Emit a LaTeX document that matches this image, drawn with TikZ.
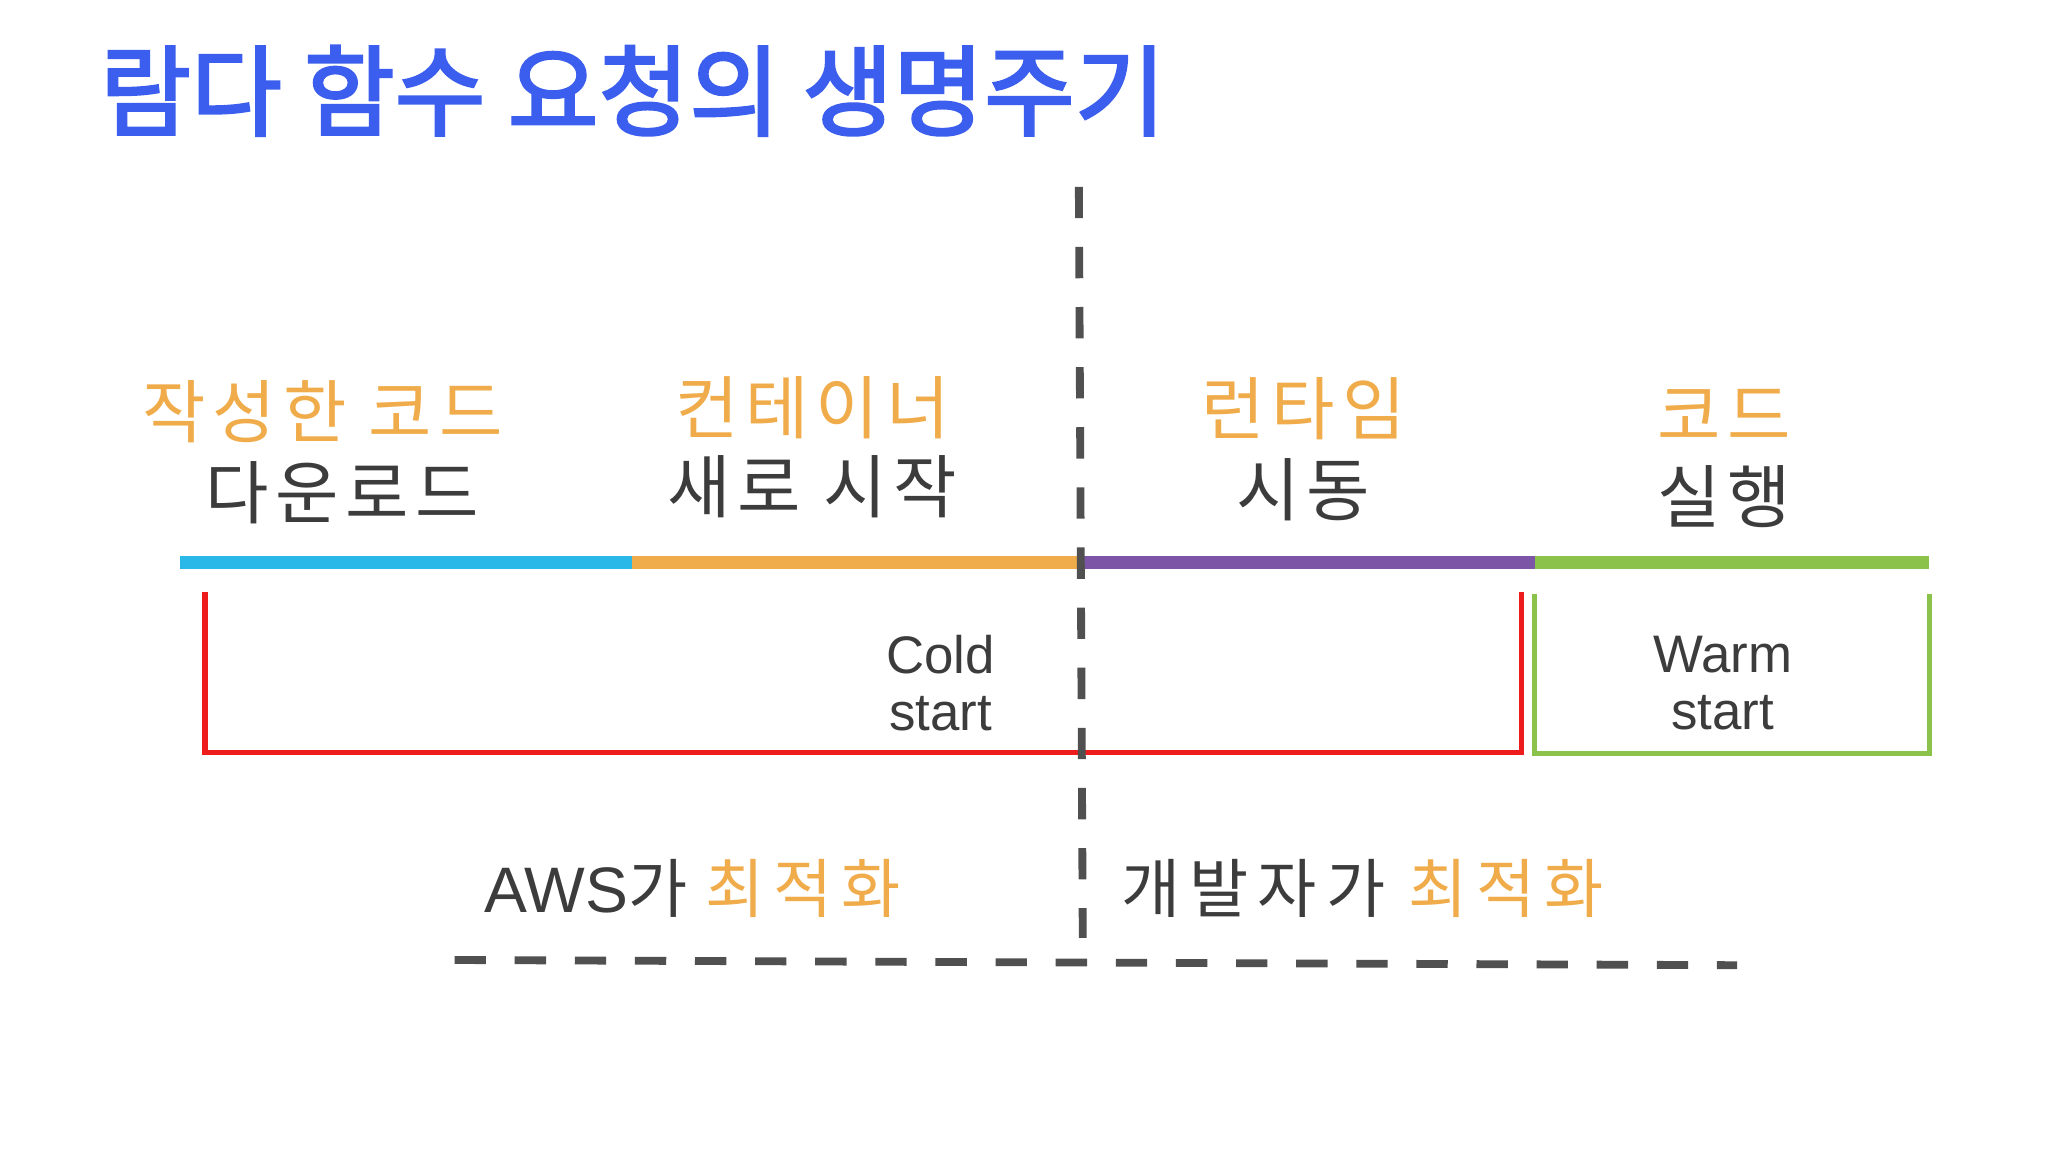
\documentclass[tikz,border=0pt]{standalone}
\usepackage{fontspec}
\setmainfont{Liberation Sans}
\newfontfamily\kr{Noto Sans CJK KR}[LetterSpace=10]
\newfontfamily\krw{Noto Sans CJK KR}[LetterSpace=14]
\newfontfamily\krb{Noto Sans CJK KR}[BoldFont=*, FakeBold=2.5]
\definecolor{ttl}{HTML}{3B5EEE}
\definecolor{org}{HTML}{F0AC4A}
\definecolor{dgr}{HTML}{3C3C3C}
\definecolor{cyn}{HTML}{2AB8E8}
\definecolor{pur}{HTML}{7D55A6}
\definecolor{grn}{HTML}{8BC34A}
\definecolor{rd}{HTML}{EE1C1C}
\tikzset{
 bar/.style={line width=1.0mm},
 dline/.style={draw=dgr!90,line width=0.6mm,dash pattern=on 2.4mm off 2.2mm},
 lbl/.style={font=\kr\fontsize{15}{17}\selectfont,inner sep=0pt},
 en/.style={font=\fontsize{11.5}{13.5}\selectfont,text=dgr,align=center,inner sep=0pt},
 brk/.style={line width=0.4mm}
}
\begin{document}
\begin{tikzpicture}[x=0.01cm,y=-0.01cm]
\useasboundingbox[fill=white] (0,0) rectangle (1568,882);
\node[anchor=base west,inner sep=0pt,text=ttl,font=\krb\fontsize{21.5}{24}\selectfont\bfseries] (title) at (76,98) {람다 함수 요청의 생명주기};
% bars
\coordinate (b0) at (138,431); \coordinate (b1) at (484,431);
\coordinate (b2) at (827,431); \coordinate (b3) at (1175,431); \coordinate (b4) at (1477,431);
\draw[bar,cyn] (b0)--(b1); \draw[bar,org] (b1)--(b2);
\draw[bar,pur] (b2)--(b3); \draw[bar,grn] (b3)--(b4);
% brackets
\coordinate (r1) at (157,453); \coordinate (r2) at (157,576);
\coordinate (r3) at (1165,576); \coordinate (r4) at (1165,453);
\draw[brk,rd] (r1)--(r2)--(r3)--(r4);
\coordinate (g1) at (1175,455); \coordinate (g2) at (1175,577);
\coordinate (g3) at (1477,577); \coordinate (g4) at (1477,455);
\draw[brk,grn] (g1)--(g2)--(g3)--(g4);
% dashed lines
\coordinate (v1) at (826,143); \coordinate (v2) at (829,718);
\draw[dline] (v1)--(v2);
\coordinate (h1) at (348,735); \coordinate (h2) at (1330,739);
\draw[dline] (h1)--(h2);
% labels
\node[lbl,text=org] (l1a) at (247,315) {작성한 코드};
\node[lbl,text=dgr] (l1b) at (262,377) {다운로드};
\node[lbl,text=org] (l2a) at (622,312) {컨테이너};
\node[lbl,text=dgr] (l2b) at (622,373) {새로 시작};
\node[lbl,text=org] (l3a) at (998,313) {런타임};
\node[lbl,text=dgr] (l3b) at (998,375) {시동};
\node[lbl,text=org] (l4a) at (1320,318) {코드};
\node[lbl,text=dgr] (l4b) at (1320,380) {실행};
\node[en] (cold) at (720,523) {Cold\\[-1pt]start};
\node[en] (warm) at (1319,523) {Warm\\[-1pt]start};
\node[anchor=base west,inner sep=0pt,font=\fontsize{14}{16}\selectfont,text=dgr] (aws) at (370,699) {AWS{\krw 가} {\krw\color{org}최적화}};
\node[anchor=base west,inner sep=0pt,font=\krw\fontsize{14}{16}\selectfont,text=dgr] (dev) at (858,699) {개발자가 {\color{org}최적화}};
\end{tikzpicture}
\end{document}
